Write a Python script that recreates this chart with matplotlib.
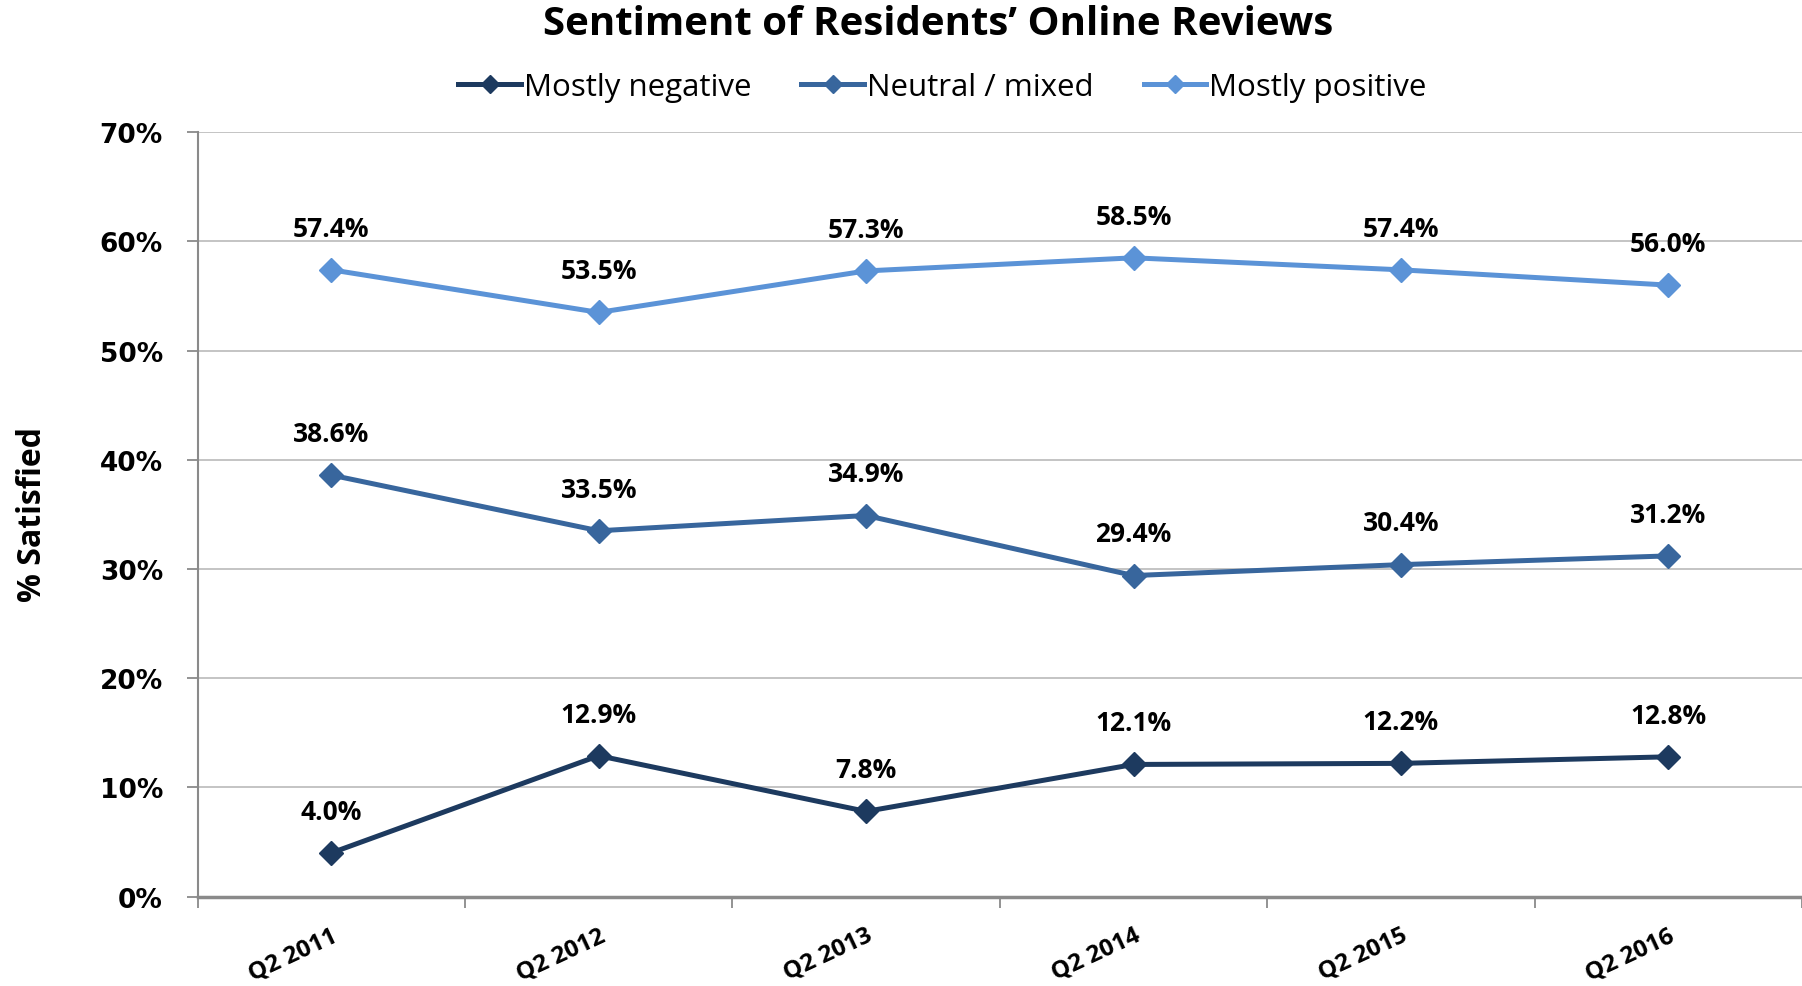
import matplotlib.pyplot as plt
from matplotlib.ticker import FixedLocator, PercentFormatter

# data
quarters = ['Q2 2011', 'Q2 2012', 'Q2 2013', 'Q2 2014', 'Q2 2015', 'Q2 2016']
mostly_negative = [4.0, 12.9, 7.8, 12.1, 12.2, 12.8]
neutral_mixed = [38.6, 33.5, 34.9, 29.4, 30.4, 31.2]
mostly_positive = [57.4, 53.5, 57.3, 58.5, 57.4, 56.0]

series = [
    ('Mostly negative', mostly_negative, '#1d3a5f'),
    ('Neutral / mixed', neutral_mixed, '#38669d'),
    ('Mostly positive', mostly_positive, '#5b93d7'),
]

fig = plt.figure(figsize=(18.02, 9.87), dpi=100)
ax = fig.add_axes([0.1097, 0.0906, 0.8903, 0.7744])

x = list(range(len(quarters)))
for name, vals, col in series:
    ax.plot(x, vals, color=col, lw=3.6, marker='D', markersize=12,
            label=name, zorder=3)
    for xi, v in zip(x, vals):
        ax.annotate(f"{v:.1f}%", (xi, v), xytext=(0, 30),
                    textcoords='offset points', ha='center', va='center',
                    fontsize=19, fontweight='bold', family='Open Sans')

ax.set_xlim(-0.5, len(quarters) - 0.5)
ax.set_ylim(0, 70)
ax.set_yticks(range(0, 71, 10))
ax.yaxis.set_major_formatter(PercentFormatter(decimals=0))
ax.grid(axis='y', color='#c4c4c4', lw=1.4)
ax.set_axisbelow(True)

# category boundaries as major ticks, labels at the centres
ax.xaxis.set_major_locator(FixedLocator([i - 0.5 for i in range(len(quarters) + 1)]))
ax.xaxis.set_major_formatter(plt.NullFormatter())
ax.xaxis.set_minor_locator(FixedLocator(x))
ax.set_xticklabels(quarters, minor=True, rotation=25, ha='right', va='top',
                   rotation_mode='anchor', fontsize=17.5, fontweight='bold',
                   family='Open Sans')
ax.tick_params(axis='x', which='minor', length=0, pad=19)
ax.tick_params(axis='x', which='major', length=8, width=1.3, color='#8a8a8a',
               direction='out')
ax.tick_params(axis='y', length=8, width=1.3, color='#8a8a8a', pad=17,
               labelsize=19)
for lab in ax.get_yticklabels():
    lab.set_fontweight('bold')
    lab.set_family('DejaVu Sans')

for side in ['top', 'right']:
    ax.spines[side].set_visible(False)
ax.spines['left'].set_color('#8a8a8a')
ax.spines['left'].set_linewidth(1.5)
ax.spines['bottom'].set_color('#8a8a8a')
ax.spines['bottom'].set_linewidth(2.5)

fig.text(0.018, 0.479, '% Satisfied', rotation=90, ha='center', va='center',
         fontsize=23, fontweight='bold', family='Open Sans')

fig.text(0.5205, 0.975, 'Sentiment of Residents\u2019 Online Reviews',
         ha='center', va='center', fontsize=29, fontweight='bold',
         family='Open Sans')

fig.legend(loc='center', bbox_to_anchor=(0.523, 0.911), ncol=3,
           frameon=False, prop={'family': 'Open Sans', 'size': 22.5},
           handlelength=2.0, handletextpad=0.1, columnspacing=1.6,
           markerscale=0.8)

plt.savefig('out.png', dpi=100)
